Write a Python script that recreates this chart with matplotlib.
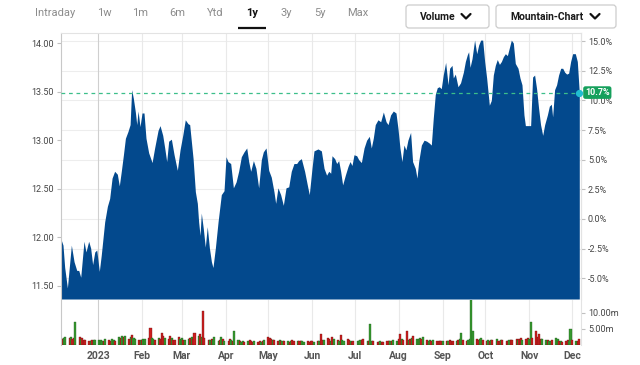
import matplotlib
matplotlib.use("Agg")
import matplotlib.pyplot as plt
import matplotlib.dates as mdates
import matplotlib.transforms as mtransforms
from matplotlib.patches import FancyBboxPatch
import pandas as pd

# ---------------- data ----------------
ref_date = "2023-01-01"
price_days = [
    -26.3, -24.7, -23.5, -21.6, -18.8, -16.9, -15.0, -13.6, -12.2, -9.9, -8.5, -6.6, -5.2, -3.8, -2.3, -0.9,
    0.9, 2.3, 4.7, 6.6, 8.2, 9.9, 11.7, 13.6, 15.0, 16.4, 17.9, 19.3, 21.1, 22.6, 23.7, 24.9, 26.3, 27.3,
    28.2, 29.6, 31.0, 32.4, 33.8, 35.7, 38.1, 39.9, 42.3, 43.7, 45.6, 47.0, 48.4, 49.8, 51.7, 53.6, 55.9,
    57.8, 59.7, 61.5,
    63.4, 64.6, 67.0, 68.6, 70.0, 70.9, 71.9, 72.8, 74.2, 75.6, 77.0, 78.5, 79.9, 81.0, 82.7, 84.6, 86.9,
    88.8, 90.2, 91.6, 93.5, 95.4, 97.3, 99.1, 101.0, 102.9, 104.8, 106.2, 107.6, 109.5, 111.3, 113.2, 115.1,
    116.5, 118.4, 120.3, 122.1, 124.0, 125.2, 126.8, 128.7, 130.6, 132.5, 134.4, 136.2, 138.1, 140.0, 141.4,
    143.3, 145.6, 147.5, 148.9, 150.8, 152.2,
    155.0, 157.4, 159.3, 161.1, 162.6, 164.0, 164.9, 166.8, 168.2, 169.6, 171.0, 172.4, 174.3, 176.2, 177.6,
    179.0, 180.4, 182.3, 183.7, 185.6, 187.5, 189.3, 191.2, 192.6, 194.0, 195.4, 197.3, 199.2, 201.1, 203.0,
    204.4, 206.2, 208.1, 210.0, 211.4, 212.8, 214.2, 215.6, 217.0, 218.4, 220.3, 221.7, 223.6, 224.8, 226.0,
    227.9, 229.8, 231.6, 233.5, 234.9, 236.3, 237.7, 239.1, 240.5, 241.9, 243.3, 245.0,
    246.7, 247.8, 249.5, 250.4, 251.8, 253.7, 255.5, 257.5, 258.9, 260.3, 261.2, 262.2, 263.6, 265.4, 266.9,
    268.3, 269.7, 271.1, 272.5, 273.9, 275.8, 277.2, 278.6, 280.0, 281.4, 282.9, 284.3, 285.7, 287.1, 288.5,
    289.9, 291.3, 292.7, 294.1, 296.0, 297.4, 298.8, 300.2, 301.2, 303.0, 304.9, 306.3, 307.7, 309.1, 310.5,
    311.9, 313.4, 314.8, 316.7, 318.1, 319.5, 320.4, 321.8, 323.2, 324.6, 326.1, 327.5, 328.9, 330.3, 331.7,
    333.1, 334.5, 336.4, 337.8, 339.2,
]
prices = [
    11.99, 11.92, 11.69, 11.48, 11.92, 11.75, 11.66, 11.66, 11.59, 11.96, 11.85, 11.96, 11.89, 11.72, 11.85, 11.87,
    11.65, 11.82, 12.16, 12.32, 12.40, 12.61, 12.68, 12.65, 12.53, 12.68, 12.85, 13.02, 13.09, 13.16, 13.52, 13.43,
    13.29, 13.16, 13.30, 13.14, 13.28, 13.28, 13.02, 12.87, 12.77, 12.92, 13.10, 13.15, 13.05, 12.92, 12.78, 12.99,
    13.01, 12.85, 12.69, 12.90, 13.05, 13.21,
    13.17, 13.16, 12.81, 12.47, 12.35, 12.16, 12.02, 12.25, 12.09, 11.90, 12.11, 11.89, 11.75, 11.69, 11.89, 12.16,
    12.44, 12.48, 12.83, 12.78, 12.76, 12.51, 12.57, 12.68, 12.83, 12.88, 12.92, 12.78, 12.68, 12.79, 12.71, 12.51,
    12.80, 12.88, 12.92, 12.69, 12.62, 12.47, 12.35, 12.51, 12.44, 12.33, 12.51, 12.52, 12.68, 12.76, 12.76, 12.79,
    12.81, 12.68, 12.54, 12.44, 12.71, 12.89,
    12.91, 12.89, 12.71, 12.64, 12.68, 12.66, 12.84, 12.81, 12.76, 12.79, 12.68, 12.54, 12.64, 12.73, 12.78,
    12.74, 12.85, 12.84, 12.80, 12.77, 12.92, 13.00, 13.04, 12.92, 13.02, 13.16, 13.21, 13.19, 13.29, 13.19,
    13.16, 13.26, 13.30, 13.28, 13.12, 12.92, 12.78, 12.95, 12.90, 13.00, 13.08, 12.78, 12.71, 12.61, 12.78,
    12.95, 13.00, 12.99, 12.97, 12.95, 13.23, 13.47, 13.54, 13.55, 13.53, 13.67, 13.80,
    13.57, 13.74, 13.77, 13.64, 13.68, 13.55, 13.59, 13.70, 13.81, 13.88, 13.91, 13.75, 13.84, 14.03, 13.89,
    13.98, 14.03, 14.03, 13.81, 13.64, 13.36, 13.41, 13.67, 13.77, 13.83, 13.78, 13.81, 13.86, 13.89, 13.87,
    13.95, 14.03, 14.00, 13.79, 13.74, 13.64, 13.57, 13.26, 13.15, 13.15, 13.15, 13.65, 13.67, 13.53, 13.33,
    13.16, 13.05, 13.16, 13.26, 13.35, 13.37, 13.24, 13.52, 13.57, 13.67, 13.74, 13.74, 13.70, 13.68, 13.69,
    13.81, 13.89, 13.89, 13.81, 13.49,
]
base_price = 12.19

volume_start = "2022-12-06"
volumes_m = [
    2.2, 2.0, 2.3, 2.6, 2.1, 2.4, 1.9, 2.2, 7.3, 2.4, 1.8, 2.1, 1.6, 1.5, 1.4, 1.3, 1.5, 1.7, 1.6, 1.5,
    1.6, 1.4, 1.3, 1.8, 1.5, 1.2, 1.9, 1.7, 1.4, 2.6, 2.2, 2.8, 2.5, 2.7, 1.9, 2.4, 3.1, 2.2, 1.8, 1.6,
    1.5, 1.7, 2.0, 1.9, 2.2, 5.3, 2.1, 1.8, 1.6, 2.2, 1.9, 3.6, 2.7, 2.3, 2.0, 2.9, 2.1, 1.7, 1.6, 2.4,
    2.0, 2.2, 1.6, 1.5, 1.9, 2.1, 2.6, 2.0, 3.9, 2.8, 3.5, 2.4, 10.5, 2.2, 1.5, 1.7, 2.0, 1.6, 2.4, 1.3,
    1.5, 2.4, 1.8, 1.4, 1.2, 1.9, 1.5, 1.1, 4.5, 1.6, 1.4, 1.0, 1.3, 0.9, 1.2, 1.5, 1.1, 1.0, 1.2, 0.9,
    1.1, 1.0, 1.3, 1.6, 2.5, 2.2, 2.0, 1.7, 1.5, 1.3, 1.6, 1.2, 1.4, 1.1, 1.3, 1.0, 1.2, 1.5, 1.3, 1.1,
    1.2, 1.4, 1.1, 0.9, 1.2, 1.0, 1.3, 1.1, 0.9, 1.2, 1.4, 3.3, 1.6, 1.5, 2.3, 1.9, 1.4, 2.6, 1.8, 1.5,
    1.3, 3.0, 1.6, 1.4, 1.8, 1.5, 1.2, 1.0, 1.4, 1.1, 1.2, 1.6, 1.5, 1.8, 1.4, 1.1, 6.5, 1.3, 1.2, 1.0,
    0.9, 1.2, 1.0, 0.9, 1.1, 1.3, 1.4, 1.2, 1.5, 1.3, 2.0, 3.4, 1.8, 1.5, 4.5, 1.6, 1.8, 2.2, 2.8, 1.9,
    1.8, 2.2, 2.0, 2.5, 1.7, 1.4, 1.6, 1.3, 1.5, 1.2, 1.4, 1.3, 1.1, 1.4, 1.3, 1.2, 1.5, 1.4, 1.2, 1.3,
    1.6, 2.0, 3.6, 1.5, 1.3, 1.6, 1.8, 15.0, 4.5, 1.8, 1.6, 2.0, 2.2, 1.5, 1.3, 1.6, 1.4, 1.7, 1.5, 2.0,
    1.4, 1.3, 1.6, 1.5, 1.4, 1.3, 1.5, 1.7, 1.6, 1.8, 1.5, 1.9, 2.2, 1.6, 1.8, 2.3, 1.9, 7.3, 2.1, 4.5,
    2.6, 3.5, 2.0, 1.8, 1.5, 1.6, 1.3, 1.4, 1.6, 2.3, 1.9, 1.4, 1.2, 1.0, 1.2, 1.6, 1.3, 4.9, 1.5, 1.2, 1.4, 2.0,
]
volume_dirs = (
    "rrggrgrrgrgrrrrgrggg"
    "ggrgrrggrgrgrgrgrggr"
    "grggrrggrgrrrgrrgrrr"
    "ggrggrgrrgrgrrrgrggg"
    "rgrgrrgrggrggrgrrrgr"
    "rgrgrrrgrrgrgrgrgrrg"
    "rrggrrrrgrgrrgrrgrgr"
    "grggrrgrrgggrrgrggrr"
    "rgrrrrgrggrrgrrgrgrg"
    "ggrgrggrgrrrrgrgrrrg"
    "rggrrggggrrggrrgrgrg"
    "rrgrrrgrrrgrrgrrggrr"
    "rrrggrggrggrgrrrggrgrr"
)

price_ticks = [11.5, 12.0, 12.5, 13.0, 13.5, 14.0]
pct_ticks = [-5.0, -2.5, 0.0, 2.5, 5.0, 7.5, 10.0, 12.5, 15.0]
vol_ticks = [5, 10]
month_labels = ["2023", "Feb", "Mar", "Apr", "May", "Jun", "Jul", "Aug", "Sep", "Oct", "Nov", "Dec"]
nav_labels = ["Intraday", "1w", "1m", "6m", "Ytd", "1y", "3y", "5y", "Max"]
nav_selected = "1y"
button_labels = ["Volume", "Mountain-Chart"]

# ---------------- styling ----------------
plt.rcParams["font.family"] = ["Roboto", "DejaVu Sans"]
BLUE = "#03498d"
RED, RED_EDGE = "#cc1f1f", "#6a1010"
GREEN, GREEN_EDGE = "#37992f", "#1c5a18"

ref = pd.Timestamp(ref_date)
px = mdates.date2num((ref + pd.to_timedelta(price_days, unit="D")).to_pydatetime())
vdates = mdates.date2num(pd.bdate_range(volume_start, periods=len(volumes_m)).to_pydatetime())
months = mdates.date2num(pd.date_range(ref, periods=12, freq="MS").to_pydatetime())
x0 = mdates.date2num((ref - pd.Timedelta(days=26.1)).to_pydatetime())
x1 = mdates.date2num((ref + pd.Timedelta(days=340.4)).to_pydatetime())

W, H = 640, 365
fig = plt.figure(figsize=(W / 100, H / 100), dpi=100)
fig.patch.set_facecolor("white")

ax = fig.add_axes([61 / W, 1 - 299 / H, 520 / W, 266 / H])
axv = fig.add_axes([61 / W, 1 - 345 / H, 520 / W, 45 / H])

# price panel
ax.set_xlim(x0, x1)
ax.set_ylim(11.366, 14.103)
for p in pct_ticks:
    ax.axhline(base_price * (1 + p / 100), color="#ededed", lw=0.8, zorder=0)
for i, m in enumerate(months):
    ax.axvline(m, color="#cfcfcf" if i == 0 else "#e9e9e9", lw=0.8, zorder=0)
ax.fill_between(px, prices, ax.get_ylim()[0], color=BLUE, lw=0, zorder=2)
ax.axhline(prices[-1], color="#3cbf8a", lw=0.9, dashes=(3, 3), zorder=3)

ax.set_xticks([])
ax.set_yticks(price_ticks)
ax.set_yticklabels([f"{t:.2f}" for t in price_ticks])
ax.tick_params(axis="y", length=3, color="#c0c0c0", labelsize=6.5, labelcolor="#444444", pad=2)
for s in ["top", "right"]:
    ax.spines[s].set_color("#e3e3e3")
ax.spines["left"].set_color("#c8c8c8")
ax.spines["bottom"].set_visible(False)
for s in ax.spines.values():
    s.set_linewidth(0.8)

sec = ax.secondary_yaxis("right", functions=(lambda p: (p / base_price - 1) * 100,
                                              lambda q: base_price * (1 + q / 100)))
sec.set_yticks(pct_ticks)
sec.set_yticklabels([f"{t:.1f}%" for t in pct_ticks])
sec.tick_params(length=3, color="#c0c0c0", labelsize=6.5, labelcolor="#444444", pad=2)
sec.spines["right"].set_color("#e3e3e3")

last_pct = (prices[-1] / base_price - 1) * 100
trans = mtransforms.blended_transform_factory(ax.transAxes, ax.transData)
ax.text(1.0 + 4 / 520, prices[-1], f"{last_pct:.1f}%", transform=trans, ha="left", va="center",
        color="white", fontsize=6.5, fontweight="bold", zorder=20, clip_on=False,
        bbox=dict(boxstyle="round,pad=0.2,rounding_size=0.25", fc="#16a05c", ec="none"))
ax.plot([px[-1]], [prices[-1]], "o", ms=4.2, color="#21bdd2", mec="#21bdd2", clip_on=False, zorder=21)

# volume panel
axv.set_xlim(x0, x1)
axv.set_ylim(0, 14.06)
for i, m in enumerate(months):
    axv.axvline(m, color="#cfcfcf" if i == 0 else "#e9e9e9", lw=0.8, zorder=0)
cols = [GREEN if d == "g" else RED for d in volume_dirs]
edges = [GREEN_EDGE if d == "g" else RED_EDGE for d in volume_dirs]
axv.bar(vdates, volumes_m, width=1.45, color=cols, edgecolor=edges, linewidth=0.25, zorder=2)
axv.set_xticks(months)
axv.set_xticklabels(month_labels)
axv.tick_params(axis="x", length=0, labelsize=7.5, labelcolor="#555555", pad=4)
for lab in axv.get_xticklabels():
    lab.set_fontweight("bold")
axv.yaxis.tick_right()
axv.set_yticks(vol_ticks)
axv.set_yticklabels([f"{v:.2f}m" for v in vol_ticks])
axv.tick_params(axis="y", length=3, color="#c0c0c0", labelsize=6.5, labelcolor="#444444", pad=2)
for s in ["top", "bottom"]:
    axv.spines[s].set_visible(False)
axv.spines["left"].set_color("#c8c8c8")
axv.spines["right"].set_color("#e3e3e3")
for s in axv.spines.values():
    s.set_linewidth(0.8)

# header (pixel coordinates overlay)
ov = fig.add_axes([0, 0, 1, 1])
ov.set_xlim(0, W)
ov.set_ylim(H, 0)
ov.axis("off")
ov.patch.set_alpha(0)
nav_x = [55, 104, 140, 177, 215, 252, 286, 320, 358]
for lab, x in zip(nav_labels, nav_x):
    sel = lab == nav_selected
    ov.text(x, 13.5, lab, ha="center", va="center", fontsize=8,
            color="#111111" if sel else "#8c8c8c", fontweight="bold" if sel else "normal")
    if sel:
        ov.plot([x - 14, x + 14], [28, 28], color="#111111", lw=1.6, solid_capstyle="butt")

boxes = [(406, 489, 438, 466), (496, 616, 547, 595)]
for lab, (bx0, bx1, tx, cx) in zip(button_labels, boxes):
    ov.add_patch(FancyBboxPatch((bx0, 5), bx1 - bx0, 23, boxstyle="round,pad=0,rounding_size=3",
                                fc="white", ec="#cccccc", lw=0.9))
    ov.text(tx, 16.5, lab, ha="center", va="center", fontsize=7.5, color="#1a1a1a", fontweight="bold")
    ov.plot([cx - 4.5, cx, cx + 4.5], [14, 18.5, 14], color="#111111", lw=1.6, solid_capstyle="round")

fig.savefig("out.png", dpi=100, facecolor="white")
